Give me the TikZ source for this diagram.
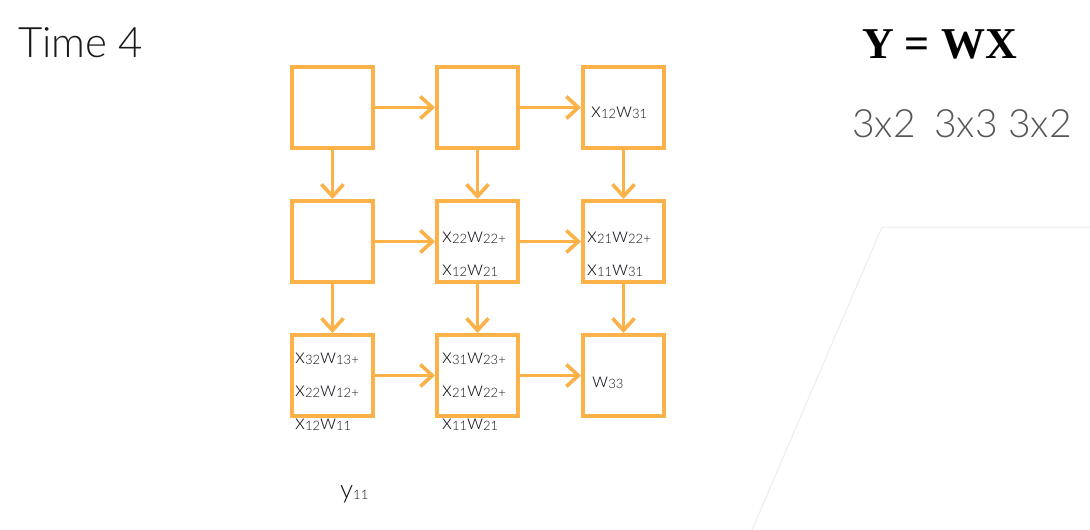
\documentclass[tikz,border=0pt]{standalone}
\usepackage{fontspec}
\setmainfont{Lato Light}
\newfontfamily\timesbold{Liberation Serif}
\usetikzlibrary{arrows.meta}
\definecolor{boxorange}{RGB}{252,178,72}
\definecolor{textdark}{RGB}{20,20,28}
\definecolor{dimgray}{RGB}{85,85,85}
\definecolor{faintline}{RGB}{236,236,236}
\newcommand\lowsub[1]{{\fontsize{13}{13}\selectfont\raisebox{-1.2pt}{#1}}}
\tikzset{
  cell/.style={draw=boxorange, line width=4pt, minimum width=81pt, minimum height=81pt, inner sep=0pt},
  flow/.style={draw=boxorange, line width=3.6pt, -{Straight Barb[length=12pt,width=22pt]}},
  term/.style={anchor=base west, inner sep=0pt, text=textdark, font=\fontsize{21}{21}\selectfont},
}
\begin{document}
\begin{tikzpicture}[x=1pt,y=-1pt]
\useasboundingbox (0,0) rectangle (1090,530);
% faint background shape
\coordinate (pa) at (882,227);
\coordinate (pb) at (1090,227);
\coordinate (pc) at (752,530);
\draw[faintline, line width=1pt] (pb) -- (pa) -- (pc);

% titles
\node[anchor=base west, inner sep=0pt, text=black!90, font=\fontsize{42}{42}\selectfont] (title) at (18,57) {Time 4};
\node[anchor=base west, inner sep=0pt, text=black, font=\timesbold\bfseries\fontsize{44}{44}\selectfont] (eq) at (862,58) {Y = WX};
\node[anchor=base west, inner sep=0pt, text=dimgray, font=\fontsize{39}{39}\selectfont] (d1) at (852,137) {3x2};
\node[anchor=base west, inner sep=0pt, text=dimgray, font=\fontsize{39}{39}\selectfont] (d2) at (934,137) {3x3};
\node[anchor=base west, inner sep=0pt, text=dimgray, font=\fontsize{39}{39}\selectfont] (d3) at (1008,137) {3x2};

% boxes
\node[cell] (b11) at (332.5,107.5) {};
\node[cell] (b12) at (477.5,107.5) {};
\node[cell] (b13) at (623.5,107.5) {};
\node[cell] (b21) at (332.5,241.5) {};
\node[cell] (b22) at (477.5,241.5) {};
\node[cell] (b23) at (623.5,241.5) {};
\node[cell] (b31) at (332.5,375.5) {};
\node[cell] (b32) at (477.5,375.5) {};
\node[cell] (b33) at (623.5,375.5) {};

% arrows
\draw[flow] (b11) -- (b12);
\draw[flow] (b12) -- (b13);
\draw[flow] (b21) -- (b22);
\draw[flow] (b22) -- (b23);
\draw[flow] (b31) -- (b32);
\draw[flow] (b32) -- (b33);
\draw[flow] (b11) -- (b21);
\draw[flow] (b21) -- (b31);
\draw[flow] (b12) -- (b22);
\draw[flow] (b22) -- (b32);
\draw[flow] (b13) -- (b23);
\draw[flow] (b23) -- (b33);

% texts
\node[term] (t13) at (591,117) {x\lowsub{12}w\lowsub{31}};
\node[term] (t22a) at (442,242) {x\lowsub{22}w\lowsub{22+}};
\node[term] (t22b) at (442,275) {x\lowsub{12}w\lowsub{21}};
\node[term] (t23a) at (587,242) {x\lowsub{21}w\lowsub{22+}};
\node[term] (t23b) at (587,275) {x\lowsub{11}w\lowsub{31}};
\node[term] (t31a) at (295,363) {x\lowsub{32}w\lowsub{13+}};
\node[term] (t31b) at (295,396) {x\lowsub{22}w\lowsub{12+}};
\node[term] (t31c) at (295,429) {x\lowsub{12}w\lowsub{11}};
\node[term] (t32a) at (442,363) {x\lowsub{31}w\lowsub{23+}};
\node[term] (t32b) at (442,396) {x\lowsub{21}w\lowsub{22+}};
\node[term] (t32c) at (442,429) {x\lowsub{11}w\lowsub{21}};
\node[term] (t33) at (592,387) {w\lowsub{33}};
\node[term, font=\fontsize{26}{26}\selectfont] (y11) at (340,498) {y\lowsub{11}};
\end{tikzpicture}
\end{document}
